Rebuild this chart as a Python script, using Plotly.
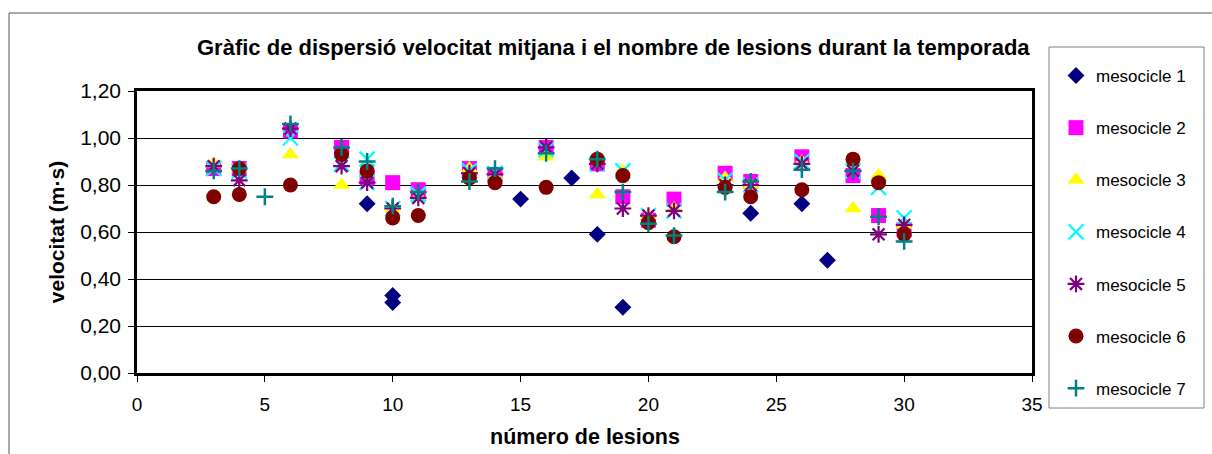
import plotly.graph_objects as go

# ---- data ----
series_names = ["mesocicle 1", "mesocicle 2", "mesocicle 3", "mesocicle 4",
                "mesocicle 5", "mesocicle 6", "mesocicle 7"]

m1_x = [9, 10, 10, 15, 17, 18, 19, 24, 26, 27]
m1_y = [0.72, 0.33, 0.30, 0.74, 0.83, 0.59, 0.28, 0.68, 0.72, 0.48]

m2_x = [3, 4, 6, 8, 9, 10, 11, 13, 14, 16, 18, 19, 20, 21, 23, 24, 26, 28, 29, 30]
m2_y = [0.87, 0.87, 1.03, 0.96, 0.83, 0.81, 0.78, 0.87, 0.845, 0.96, 0.89, 0.75,
        0.65, 0.74, 0.85, 0.815, 0.92, 0.84, 0.67, 0.61]

m3_x = [3, 4, 6, 8, 9, 10, 11, 13, 14, 16, 18, 19, 20, 21, 23, 24, 26, 28, 29, 30]
m3_y = [0.89, 0.87, 0.93, 0.80, 0.85, 0.70, 0.75, 0.87, 0.84, 0.92, 0.76, 0.86,
        0.67, 0.70, 0.83, 0.80, 0.90, 0.70, 0.84, 0.63]

m4_x = [3, 4, 6, 8, 9, 9, 10, 11, 13, 14, 16, 18, 19, 20, 21, 23, 24, 26, 28, 29, 30]
m4_y = [0.87, 0.86, 1.00, 0.89, 0.91, 0.81, 0.70, 0.76, 0.86, 0.85, 0.95, 0.89,
        0.86, 0.67, 0.69, 0.82, 0.80, 0.90, 0.86, 0.79, 0.66]

m5_x = [3, 4, 6, 8, 9, 10, 11, 13, 14, 16, 18, 19, 20, 21, 23, 24, 26, 28, 29, 30]
m5_y = [0.88, 0.82, 1.04, 0.88, 0.81, 0.70, 0.745, 0.85, 0.845, 0.96, 0.89, 0.70,
        0.67, 0.69, 0.80, 0.80, 0.89, 0.86, 0.59, 0.63]

m6_x = [3, 4, 4, 6, 8, 9, 10, 11, 13, 14, 16, 18, 19, 20, 21, 23, 24, 26, 28, 29, 30]
m6_y = [0.75, 0.87, 0.76, 0.80, 0.93, 0.86, 0.66, 0.67, 0.83, 0.81, 0.79, 0.91,
        0.84, 0.64, 0.58, 0.79, 0.75, 0.78, 0.91, 0.81, 0.59]

m7_x = [3, 4, 5, 6, 8, 9, 10, 11, 13, 14, 16, 18, 19, 20, 21, 23, 24, 26, 28, 29, 30]
m7_y = [0.86, 0.87, 0.75, 1.06, 0.96, 0.90, 0.71, 0.77, 0.815, 0.87, 0.935, 0.91,
        0.77, 0.635, 0.585, 0.77, 0.815, 0.865, 0.86, 0.665, 0.56]

y_tickvals = [0, 0.2, 0.4, 0.6, 0.8, 1.0, 1.2]
x_tickvals = [0, 5, 10, 15, 20, 25, 30, 35]

title_text = "Gràfic de dispersió velocitat mitjana i el nombre de lesions durant la temporada"
x_title = "número de lesions"
y_title = "velocitat (m·s)"

# ---- styling ----
W, H = 1212, 454
FONT = "Liberation Sans, Arial, sans-serif"
styles = [
    dict(symbol="diamond", color="#000080", size=13, line=dict(width=0)),
    dict(symbol="square", color="#FF00FF", size=15, line=dict(width=0)),
    dict(symbol="triangle-up", color="#FFFF00", size=15, line=dict(width=0)),
    dict(symbol="x-thin-open", color="#00FFFF", size=15, line=dict(width=2.2, color="#00FFFF")),
    dict(symbol="asterisk-open", color="#800080", size=14, line=dict(width=2.2, color="#800080")),
    dict(symbol="circle", color="#800000", size=15, line=dict(width=0)),
    dict(symbol="cross-thin-open", color="#008080", size=12, line=dict(width=2.5, color="#008080")),
]
xs = [m1_x, m2_x, m3_x, m4_x, m5_x, m6_x, m7_x]
ys = [m1_y, m2_y, m3_y, m4_y, m5_y, m6_y, m7_y]

fig = go.Figure()
for i, name in enumerate(series_names):
    fig.add_trace(go.Scatter(
        x=xs[i], y=ys[i], mode="markers", name=name,
        legendgroup=f"g{i}", marker=styles[i], cliponaxis=False,
    ))

L, R, T, B = 137, 1032, 91, 373


def px_x(p):
    return (p - L) / (R - L)


def px_y(p):
    return (B - p) / (B - T)


fig.update_layout(
    width=W, height=H,
    margin=dict(l=L, r=W - R, t=T, b=H - B, pad=0),
    paper_bgcolor="white", plot_bgcolor="white",
    separators=",.",
    font=dict(family=FONT, color="black"),
    showlegend=True,
    legend=dict(
        xref="container", yref="container",
        x=1056 / W, y=1 - 58 / H, xanchor="left", yanchor="top",
        font=dict(size=17, family=FONT, color="black"),
        bgcolor="rgba(0,0,0,0)", borderwidth=0,
        tracegroupgap=27, itemsizing="trace", maxheight=440,
    ),
    xaxis=dict(
        range=[0, 35], tickvals=x_tickvals, ticks="outside", ticklen=6,
        tickwidth=1, tickcolor="black", showgrid=False, zeroline=False,
        showline=True, linewidth=2.5, linecolor="black", mirror=True,
        tickfont=dict(size=19, family=FONT), ticklabelstandoff=6,
    ),
    yaxis=dict(
        range=[0, 1.2], tickvals=y_tickvals, tickformat=".2f", ticks="outside",
        ticklen=6, tickwidth=1, tickcolor="black", showgrid=True,
        gridcolor="black", gridwidth=1, zeroline=False,
        showline=True, linewidth=2.5, linecolor="black", mirror=True,
        tickfont=dict(size=21, family=FONT), ticklabelstandoff=3,
        title=dict(text=f"<b>{y_title}</b>", standoff=10,
                   font=dict(size=21, family=FONT)),
    ),
    annotations=[
        dict(text=f"<b>{title_text}</b>", xref="paper", yref="paper",
             x=px_x(613), y=px_y(47),
             xanchor="center", yanchor="middle", showarrow=False,
             font=dict(size=22, family=FONT)),
        dict(text=f"<b>{x_title}</b>", xref="paper", yref="paper",
             x=0.5, y=px_y(437),
             xanchor="center", yanchor="middle", showarrow=False,
             font=dict(size=21.5, family=FONT)),
    ],
    shapes=[
        dict(type="rect", xref="paper", yref="paper",
             x0=px_x(9), x1=px_x(1230), y0=px_y(480), y1=px_y(13),
             line=dict(color="#555555", width=1), layer="below"),
        dict(type="rect", xref="paper", yref="paper",
             x0=px_x(1049), x1=px_x(1204), y0=px_y(408), y1=px_y(47),
             line=dict(color="#808080", width=1), layer="below"),
    ],
)

fig.write_html("out.html")
